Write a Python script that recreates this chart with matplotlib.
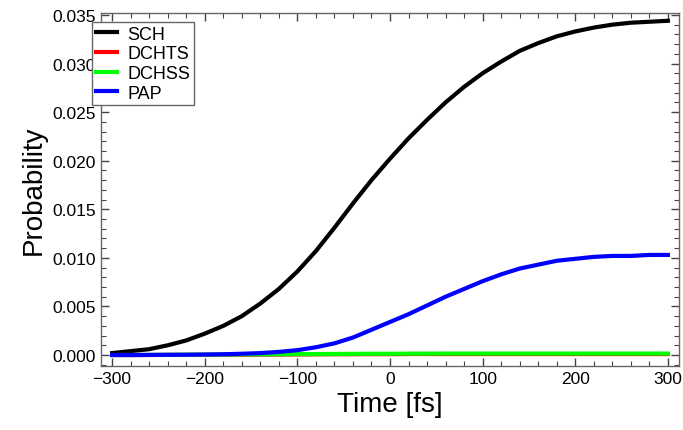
import matplotlib
matplotlib.use("Agg")
import matplotlib.pyplot as plt
import numpy as np
from matplotlib.ticker import MultipleLocator

plt.rcParams['font.family'] = ['Liberation Sans', 'DejaVu Sans']

time = [-300, -280, -260, -240, -220, -200, -180, -160, -140, -120, -100, -80, -60,
        -40, -20, 0, 20, 40, 60, 80, 100, 120, 140, 160, 180, 200, 220, 240, 260,
        280, 300]
sch = [0.0002, 0.0004, 0.0006, 0.0010, 0.0015, 0.0022, 0.0030, 0.0040, 0.0053,
       0.0068, 0.0086, 0.0107, 0.0131, 0.0156, 0.0180, 0.0202, 0.0223, 0.0242,
       0.0260, 0.0276, 0.0290, 0.0302, 0.0313, 0.0321, 0.0328, 0.0333, 0.0337,
       0.0340, 0.0342, 0.0343, 0.0344]
dchts = [0.0, 0.0, 0.0, 0.00001, 0.00001, 0.00002, 0.00002, 0.00003, 0.00004,
         0.00005, 0.00006, 0.00007, 0.00008, 0.00008, 0.00009, 0.00009, 0.0001,
         0.0001, 0.0001, 0.0001, 0.0001, 0.0001, 0.0001, 0.0001, 0.0001, 0.0001,
         0.0001, 0.0001, 0.0001, 0.0001, 0.0001]
dchss = [0.0, 0.0, 0.00001, 0.00002, 0.00003, 0.00004, 0.00005, 0.00006, 0.00007,
         0.00008, 0.00009, 0.0001, 0.00011, 0.00012, 0.00013, 0.00013, 0.00014,
         0.00014, 0.00015, 0.00015, 0.00015, 0.00015, 0.00015, 0.00015, 0.00015,
         0.00015, 0.00015, 0.00015, 0.00015, 0.00015, 0.00015]
pap = [0.0, 0.0, 0.00001, 0.00002, 0.00003, 0.00005, 0.00008, 0.00013, 0.0002,
       0.00032, 0.0005, 0.0008, 0.0012, 0.0018, 0.0026, 0.0034, 0.0042, 0.0051,
       0.0060, 0.0068, 0.0076, 0.0083, 0.0089, 0.0093, 0.0097, 0.0099, 0.0101,
       0.0102, 0.0102, 0.0103, 0.0103]

fig = plt.figure(figsize=(6.83, 4.31), dpi=100)
ax = fig.add_axes([101/683, 1 - 367/431, (679-101)/683, (367-14)/431])

ax.plot(time, sch, color='black', lw=3, label='SCH')
ax.plot(time, dchts, color='#ff0000', lw=3, label='DCHTS')
ax.plot(time, dchss, color='#00ff00', lw=3, label='DCHSS')
ax.plot(time, pap, color='#0000ff', lw=3, label='PAP')

ax.set_xlim(-312, 312)
ax.set_ylim(-0.00113, 0.0352)
ax.xaxis.set_minor_locator(MultipleLocator(20))
ax.yaxis.set_minor_locator(MultipleLocator(0.001))
yt = np.arange(0, 0.0351, 0.005)
ax.set_yticks(yt)
ax.set_yticklabels(['%.3f' % v for v in yt])
ax.set_xticks([-300, -200, -100, 0, 100, 200, 300])
ax.set_xticklabels(['\u2212300', '\u2212200', '\u2212100', '0', '100', '200', '300'])

for s in ax.spines.values():
    s.set_color('#666666')
    s.set_linewidth(1.0)
ax.tick_params(which='both', direction='in', top=True, right=True, colors='#444444',
               labelcolor='black', labelsize=12.5)
ax.tick_params(which='major', length=6, width=1)
ax.tick_params(which='minor', length=3.5, width=0.8)

ax.set_xlabel('Time [fs]', fontsize=20)
ax.set_ylabel('Probability', fontsize=20)

leg = ax.legend(loc='upper left', bbox_to_anchor=(-0.0156, 0.9745), fontsize=13,
                frameon=True, fancybox=False, handlelength=1.2, borderpad=0.2,
                labelspacing=0.15, handletextpad=0.55, borderaxespad=0)
leg.get_frame().set_edgecolor('#666666')
leg.get_frame().set_linewidth(1.0)
leg.get_frame().set_alpha(1)

fig.savefig('out.png', dpi=100)
